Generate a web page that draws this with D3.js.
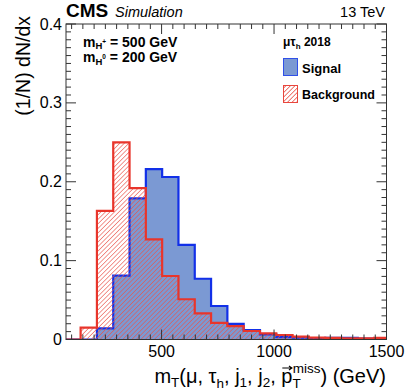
<!DOCTYPE html>
<html><head><meta charset="utf-8">
<script src="https://cdn.jsdelivr.net/npm/d3@7"></script>
<style>
body{margin:0;background:#fff;}
svg{display:block;font-family:"Liberation Sans",Arial,Helvetica,sans-serif;}
</style></head>
<body>
<svg id="c" width="407" height="391"></svg>
<script>
// ---- data ----
const binEdges = [67.5,140,212.5,285,357.5,430,502.5,575,647.5,720,792.5,865,937.5,1010,1082.5,1155,1227.5,1300,1372.5,1445,1517.5];
const signal     = [0,0,0.014,0.081,0.179,0.216,0.206,0.120,0.077,0.0425,0.0197,0.012,0.0066,0.003,0.0023,0.0016,0.0022,0.002,0.001,0.0006];
const background = [0,0.015,0.163,0.250,0.192,0.127,0.0805,0.051,0.033,0.021,0.017,0.0108,0.0078,0.0057,0.0036,0.0023,0.002,0.0015,0.0015,0.002];
const xTicks = [500,1000,1500];
const yTicks = [0,0.1,0.2,0.3,0.4];
const xDomain = [75,1500];
const yDomain = [0,0.4];

// ---- layout ----
const L=66,R=386.5,T=24,B=339.5;
const svg=d3.select("#c");
const x=d3.scaleLinear().domain(xDomain).range([L,R]);
const y=d3.scaleLinear().domain(yDomain).range([B,T]);

const defs=svg.append("defs");
defs.append("clipPath").attr("id","clip").append("rect")
  .attr("x",L).attr("y",T).attr("width",R-L).attr("height",B-T);
const pat=defs.append("pattern").attr("id","hatchR").attr("patternUnits","userSpaceOnUse")
  .attr("width",3.2).attr("height",4).attr("patternTransform","rotate(45)");
pat.append("rect").attr("x",0).attr("y",0).attr("width",0.75).attr("height",4)
  .style("fill","#ea5248");

function stepPoints(vals){
  const pts=[];
  vals.forEach((v,i)=>{pts.push([binEdges[i],v]);pts.push([binEdges[i+1],v]);});
  return pts;
}
const line=d3.line().x(d=>x(d[0])).y(d=>y(d[1]));
const area=d3.area().x(d=>x(d[0])).y0(y(0)).y1(d=>y(d[1]));

const g=svg.append("g").attr("clip-path","url(#clip)");
const sP=stepPoints(signal), bP=stepPoints(background);
g.append("path").attr("d",area(sP)).attr("fill","#7b99d3");
g.append("path").attr("d",line(sP)).attr("fill","none").attr("stroke","#1230e8").attr("stroke-width",2.2);
g.append("path").attr("d",area(bP)).style("fill","url(#hatchR)").style("opacity",0.8);
g.append("path").attr("d",line(bP)).attr("fill","none").attr("stroke","#e8352b").attr("stroke-width",2.2);

// ---- frame & ticks ----
const axc="#333";
svg.append("rect").attr("x",L).attr("y",T).attr("width",R-L).attr("height",B-T)
  .attr("fill","none").attr("stroke",axc).attr("stroke-width",1);
const xMinor=d3.range(100,1501,50);
const yMinor=d3.range(0,0.4001,0.01);
const tk=svg.append("g").attr("stroke",axc).attr("stroke-width",1);
xMinor.forEach(v=>{
  const major=xTicks.includes(v); const len=major?10:5;
  tk.append("line").attr("x1",x(v)).attr("x2",x(v)).attr("y1",B).attr("y2",B-len);
  tk.append("line").attr("x1",x(v)).attr("x2",x(v)).attr("y1",T).attr("y2",T+len);
});
yMinor.forEach((v,i)=>{
  const major=(i%10===0); const len=major?10:5;
  tk.append("line").attr("x1",L).attr("x2",L+len).attr("y1",y(v)).attr("y2",y(v));
  tk.append("line").attr("x1",R).attr("x2",R-len).attr("y1",y(v)).attr("y2",y(v));
});

// tick labels
svg.append("g").selectAll("text").data(xTicks).join("text")
  .attr("x",d=>x(d)).attr("y",357).attr("text-anchor","middle")
  .attr("font-size",16).text(d=>d);
svg.append("g").selectAll("text").data(yTicks).join("text")
  .attr("x",62).attr("y",d=>y(d)+5.5).attr("text-anchor","end")
  .attr("font-size",16).text(d=>d===0?"0":d.toFixed(1));

// axis titles
svg.append("text").attr("transform","translate(30,16) rotate(-90)")
  .attr("text-anchor","end").attr("font-size",19.5).text("(1/N) dN/dx");

const xt=svg.append("text").attr("x",386).attr("y",383).attr("text-anchor","end").attr("font-size",20);
xt.append("tspan").text("m");
xt.append("tspan").attr("font-size",13.5).attr("dy",4).text("T");
xt.append("tspan").attr("dy",-4).text("(μ, τ");
xt.append("tspan").attr("font-size",13.5).attr("dy",5).text("h");
xt.append("tspan").attr("dy",-5).text(", j");
xt.append("tspan").attr("font-size",13.5).attr("dy",4).text("1");
xt.append("tspan").attr("dy",-4).text(", j");
xt.append("tspan").attr("font-size",13.5).attr("dy",4).text("2");
xt.append("tspan").attr("dy",-4).text(", ");
const pSpan=xt.append("tspan").text("p");
xt.append("tspan").attr("font-size",13.5).attr("dy",5).text("T");
xt.append("tspan").attr("font-size",13.5).attr("dx",-8).attr("dy",-15).text("miss");
xt.append("tspan").attr("dy",10).text(") (GeV)");
// arrow over p
const pb=pSpan.node().getBBox();
const ax0=pb.x+1, ax1=pb.x+pb.width-0.5, ay=pb.y+3;
svg.append("path").attr("d",`M${ax0},${ay} L${ax1},${ay} M${ax1-3},${ay-2} L${ax1},${ay} L${ax1-3},${ay+2}`)
  .attr("stroke","#000").attr("stroke-width",1.1).attr("fill","none");

// header texts
svg.append("text").attr("x",66).attr("y",17).attr("font-size",19).attr("font-weight","bold").text("CMS");
svg.append("text").attr("x",115).attr("y",17).attr("font-size",14.5).attr("font-style","italic").text("Simulation");
svg.append("text").attr("x",385).attr("y",17).attr("font-size",14.5).attr("text-anchor","end").text("13 TeV");

// mass labels
function massLabel(yy,sup,val){
  const t=svg.append("text").attr("x",83).attr("y",yy).attr("font-size",14).attr("font-weight","bold");
  t.append("tspan").text("m");
  t.append("tspan").attr("font-size",9.5).attr("dy",2.5).text("H");
  t.append("tspan").attr("font-size",6.5).attr("dy",-5.5).text(sup);
  t.append("tspan").attr("dy",3).text(" = "+val+" GeV");
}
massLabel(46.5,"+","500");
massLabel(62,"0","200");

// legend
const lh=svg.append("text").attr("x",283).attr("y",46).attr("font-size",12).attr("font-weight","bold");
lh.append("tspan").text("μτ");
lh.append("tspan").attr("font-size",8).attr("dy",3).text("h");
lh.append("tspan").attr("dy",-3).text(" 2018");

svg.append("rect").attr("x",283.5).attr("y",58.5).attr("width",14).attr("height",17)
  .attr("fill","#7b99d3").attr("stroke","#3050e8").attr("stroke-width",1);
svg.append("text").attr("x",302).attr("y",72.5).attr("font-size",13).attr("font-weight","bold").text("Signal");
svg.append("rect").attr("x",283.5).attr("y",85.5).attr("width",14).attr("height",17)
  .style("fill","url(#hatchR)").attr("stroke","#e8463c").attr("stroke-width",1);
svg.append("text").attr("x",302).attr("y",99).attr("font-size",12.5).attr("font-weight","bold").text("Background");
</script>
</body></html>
